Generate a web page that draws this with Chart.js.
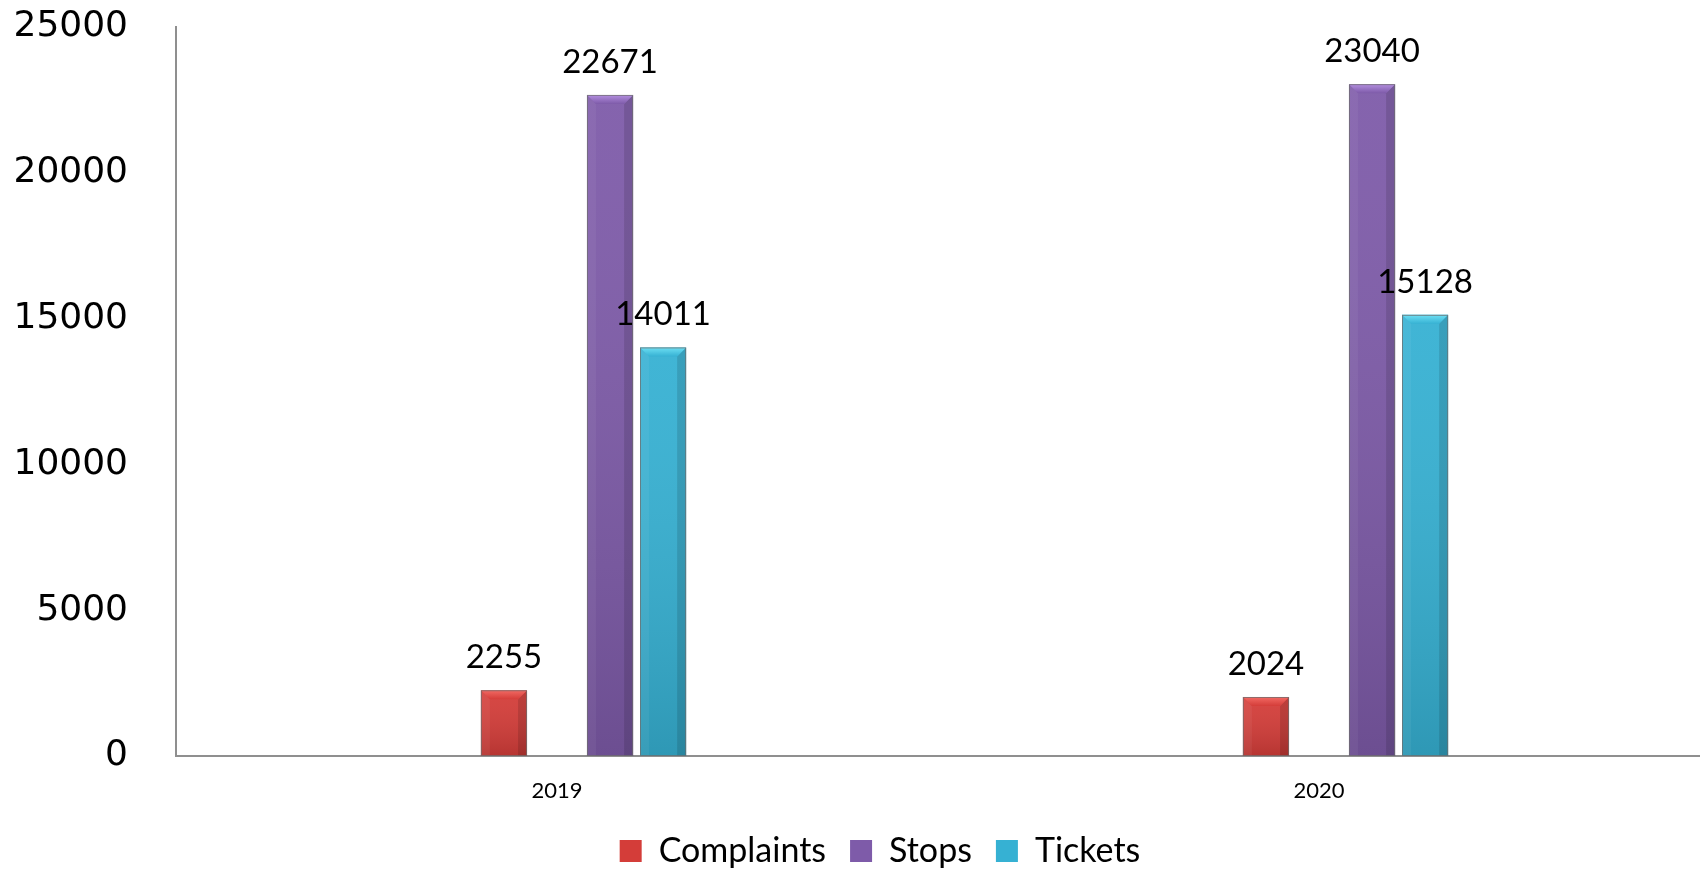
<!DOCTYPE html>
<html>
<head>
<meta charset="utf-8">
<script src="https://cdn.jsdelivr.net/npm/chart.js@4.4.1/dist/chart.umd.min.js"></script>
<style>
  html, body { margin: 0; padding: 0; background: #ffffff; }
  #wrap { width: 1700px; height: 871px; position: relative; }
</style>
</head>
<body>
<div id="wrap"><canvas id="c" width="1700" height="871"></canvas></div>
<script>
// ---- data ----
const categories = ['2019', '2020'];
const complaints = [2255, 2024];
const stops = [22671, 23040];
const tickets = [14011, 15128];
const emptySlot = [null, null];   // unused series slots in the original chart
const yTicks = [0, 5000, 10000, 15000, 20000, 25000];

// ---- styles ----
const colors = {
  Complaints: { base: '#D43D39', light: '#F26A64', dark: '#A82824' },
  Stops:      { base: '#7E5BA9', light: '#B48FE0', dark: '#5E4185' },
  Tickets:    { base: '#36B1D3', light: '#6EE0F4', dark: '#23879F' }
};

const bevelPlugin = {
  id: 'bevel',
  afterDatasetsDraw(chart) {
    const ctx = chart.ctx;
    chart.data.datasets.forEach((ds, di) => {
      const c = colors[ds.label];
      if (!c) return;
      const meta = chart.getDatasetMeta(di);
      meta.data.forEach((bar, i) => {
        if (ds.data[i] == null) return;
        const p = bar.getProps(['x', 'y', 'base', 'width'], true);
        const x0 = p.x - p.width / 2, x1 = p.x + p.width / 2;
        const top = p.y, bot = p.base;
        const h = bot - top;
        const b = Math.min(9, h / 2);
        ctx.save();
        const g = ctx.createLinearGradient(0, top, 0, bot);
        g.addColorStop(0, 'rgba(255,255,255,0.05)');
        g.addColorStop(1, 'rgba(0,0,0,0.14)');
        ctx.fillStyle = g;
        ctx.fillRect(x0, top, p.width, h);
        ctx.fillStyle = 'rgba(255,255,255,0.05)';
        ctx.beginPath();
        ctx.moveTo(x0, top); ctx.lineTo(x0 + b, top + b); ctx.lineTo(x0 + b, bot); ctx.lineTo(x0, bot);
        ctx.closePath(); ctx.fill();
        ctx.fillStyle = 'rgba(0,0,0,0.12)';
        ctx.beginPath();
        ctx.moveTo(x1, top); ctx.lineTo(x1 - b, top + b); ctx.lineTo(x1 - b, bot); ctx.lineTo(x1, bot);
        ctx.closePath(); ctx.fill();
        const tg = ctx.createLinearGradient(0, top, 0, top + b);
        tg.addColorStop(0, c.light);
        tg.addColorStop(1, c.base);
        ctx.fillStyle = tg;
        ctx.beginPath();
        ctx.moveTo(x0, top); ctx.lineTo(x1, top); ctx.lineTo(x1 - b, top + b); ctx.lineTo(x0 + b, top + b);
        ctx.closePath(); ctx.fill();
        ctx.strokeStyle = 'rgba(110,110,110,0.75)';
        ctx.lineWidth = 1;
        ctx.strokeRect(x0 + 0.5, top + 0.5, p.width - 1, h - 1);
        ctx.restore();
      });
    });
  }
};

const valueLabelPlugin = {
  id: 'valueLabels',
  afterDatasetsDraw(chart) {
    const ctx = chart.ctx;
    ctx.save();
    ctx.font = '33px Lato';
    ctx.fillStyle = '#000000';
    ctx.textAlign = 'center';
    ctx.textBaseline = 'middle';
    chart.data.datasets.forEach((ds, di) => {
      if (!colors[ds.label]) return;
      const meta = chart.getDatasetMeta(di);
      meta.data.forEach((bar, i) => {
        const v = ds.data[i];
        if (v == null) return;
        ctx.fillText(String(v), bar.x, bar.y - 33);
      });
    });
    ctx.restore();
  }
};

const legendShift = {
  id: 'legendShift',
  afterLayout(chart) {
    if (chart.legend) { chart.legend.left += 30; chart.legend.right += 30; }
  }
};

const barCommon = { categoryPercentage: 0.348, barPercentage: 0.87, borderWidth: 0 };

new Chart(document.getElementById('c'), {
  type: 'bar',
  data: {
    labels: categories,
    datasets: [
      Object.assign({ label: '', data: emptySlot, backgroundColor: 'rgba(0,0,0,0)' }, barCommon),
      Object.assign({ label: 'Complaints', data: complaints, backgroundColor: colors.Complaints.base }, barCommon),
      Object.assign({ label: '', data: emptySlot, backgroundColor: 'rgba(0,0,0,0)' }, barCommon),
      Object.assign({ label: 'Stops', data: stops, backgroundColor: colors.Stops.base }, barCommon),
      Object.assign({ label: 'Tickets', data: tickets, backgroundColor: colors.Tickets.base }, barCommon)
    ]
  },
  options: {
    responsive: false,
    animation: false,
    layout: { padding: { top: 27, bottom: -7, left: 0, right: 0 } },
    plugins: {
      tooltip: { enabled: false },
      legend: {
        position: 'bottom',
        labels: {
          filter: (item) => item.text !== '',
          boxWidth: 22,
          boxHeight: 22,
          padding: 24,
          color: '#000000',
          font: { family: 'Lato', size: 34 }
        }
      }
    },
    scales: {
      x: {
        grid: { display: false, drawTicks: true, tickLength: 22 },
        border: { display: true, color: '#8f8f8f', width: 2 },
        ticks: { color: '#000000', font: { family: 'Lato', size: 22 }, padding: 0, maxRotation: 0 },
        afterFit(scale) { scale.height = 54; }
      },
      y: {
        min: 0,
        max: 25000,
        afterBuildTicks(scale) { scale.ticks = yTicks.map(v => ({ value: v })); },
        grid: { display: false, drawTicks: true, tickLength: 48 },
        border: { display: true, color: '#8f8f8f', width: 2 },
        ticks: { color: '#000000', font: { family: 'DejaVu Sans', size: 36 }, padding: 0,
                 callback: (v) => String(v) },
        afterFit(scale) { scale.width = 176; }
      }
    }
  },
  plugins: [bevelPlugin, valueLabelPlugin, legendShift]
});
</script>
</body>
</html>
